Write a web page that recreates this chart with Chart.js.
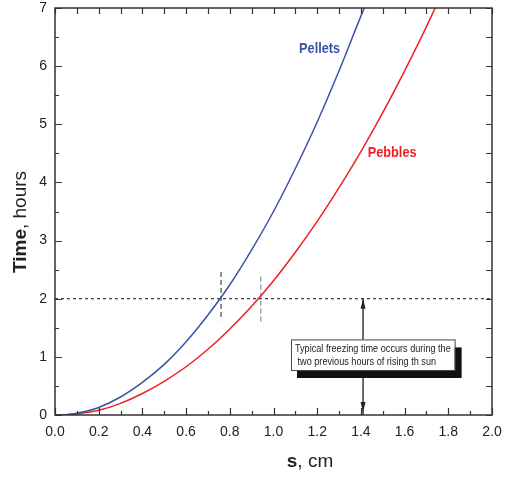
<!DOCTYPE html>
<html>
<head>
<meta charset="utf-8">
<script src="https://cdn.jsdelivr.net/npm/chart.js@4.4.1/dist/chart.umd.min.js"></script>
<style>
html,body{margin:0;padding:0;background:#fff;}
canvas{display:block;}
</style>
</head>
<body>
<canvas id="c" width="520" height="477"></canvas>
<script>
// ---- data ----
const pelletsS     = [0, 0.05, 0.1, 0.2, 0.3, 0.4, 0.5, 0.6, 0.7, 0.8, 0.9, 1.0, 1.1, 1.2, 1.3, 1.4, 1.45];
const pelletsHours = [0, 0.005, 0.03, 0.13, 0.31, 0.56, 0.87, 1.26, 1.72, 2.24, 2.84, 3.5, 4.24, 5.04, 5.92, 6.86, 7.3];
const pebblesS     = [0, 0.05, 0.1, 0.2, 0.3, 0.4, 0.5, 0.6, 0.7, 0.8, 0.9, 1.0, 1.1, 1.2, 1.3, 1.4, 1.5, 1.6, 1.7, 1.8];
const pebblesHours = [0, 0.003, 0.02, 0.08, 0.2, 0.37, 0.58, 0.83, 1.13, 1.48, 1.87, 2.31, 2.8, 3.33, 3.91, 4.53, 5.2, 5.92, 6.68, 7.5];
const xTickLabels  = ["0.0","0.2","0.4","0.6","0.8","1.0","1.2","1.4","1.6","1.8","2.0"];
const yTickLabels  = ["0","1","2","3","4","5","6","7"];
const freezeLineHours = 2;
const pelletsCross = [0.76, 2.46, 1.63];   // s, top, bottom
const pebblesCross = [0.942, 2.38, 1.58];
const arrowS = 1.41;
const arrowRange = [2, 0];
const noteLines = ["Typical freezing time occurs during the", " two previous hours of rising th sun"];
const seriesNames = ["Pellets", "Pebbles"];

const BLUE = "#3a53a4", RED = "#ed2024";
const SANS = "'Liberation Sans',Arial,sans-serif";

const pts = (xs, ys) => xs.map((x, i) => ({x, y: ys[i]}));

function narrowText(ctx, text, x, y, sx, align) {
  ctx.save();
  ctx.translate(x, y);
  ctx.scale(sx, 1);
  ctx.textAlign = align;
  ctx.fillText(text, 0, 0);
  ctx.restore();
}

const deco = {
  id: 'deco',
  afterDatasetsDraw(chart) {
    const ctx = chart.ctx, xs = chart.scales.x, ys = chart.scales.y, a = chart.chartArea;
    const X = v => xs.getPixelForValue(v), Y = v => ys.getPixelForValue(v);
    ctx.save();
    // arrowheads
    ctx.fillStyle = "#222";
    const ax = X(arrowS);
    let yt = Y(arrowRange[0]), yb = Y(arrowRange[1]);
    ctx.beginPath(); ctx.moveTo(ax, yt); ctx.lineTo(ax - 2.5, yt + 10); ctx.lineTo(ax + 2.5, yt + 10); ctx.closePath(); ctx.fill();
    ctx.beginPath(); ctx.moveTo(ax, yb - 3); ctx.lineTo(ax - 2.5, yb - 13); ctx.lineTo(ax + 2.5, yb - 13); ctx.closePath(); ctx.fill();
    // note box
    const bl = X(1.08), br = X(1.829), bt = Y(1.30), bb = Y(0.774);
    ctx.fillStyle = "#111";
    ctx.fillRect(bl + 6, bt + 8, br - bl + 1, bb - bt);
    ctx.fillStyle = "#fff";
    ctx.fillRect(bl, bt, br - bl, bb - bt);
    ctx.strokeStyle = "#444"; ctx.lineWidth = 1;
    ctx.strokeRect(bl + 0.5, bt + 0.5, br - bl, bb - bt);
    ctx.fillStyle = "#222";
    ctx.font = "11px " + SANS;
    ctx.textBaseline = "middle";
    narrowText(ctx, noteLines[0], bl + 4, bt + 10, 0.83, "left");
    narrowText(ctx, noteLines[1], bl + 4, bt + 22.5, 0.83, "left");
    // series labels
    ctx.font = "bold 15px " + SANS;
    ctx.fillStyle = BLUE; narrowText(ctx, seriesNames[0], X(1.211), Y(6.29), 0.85, "center");
    ctx.fillStyle = RED;  narrowText(ctx, seriesNames[1], X(1.543), Y(4.51), 0.85, "center");
    // frame
    ctx.strokeStyle = "#333"; ctx.lineWidth = 1.5;
    ctx.strokeRect(a.left, a.top, a.right - a.left, a.bottom - a.top);
    ctx.lineWidth = 1.2;
    ctx.beginPath();
    for (let i = 0; i <= 20; i++) {
      const v = i / 10, px = Math.round(X(v)) + 0.5, len = i % 2 === 0 ? 7 : 4;
      ctx.moveTo(px, a.bottom); ctx.lineTo(px, a.bottom - len);
      ctx.moveTo(px, a.top); ctx.lineTo(px, a.top + 6);
    }
    for (let i = 0; i <= 14; i++) {
      const v = i / 2, py = Math.round(Y(v)) + 0.5, len = i % 2 === 0 ? 7 : 4;
      ctx.moveTo(a.left, py); ctx.lineTo(a.left + len, py);
      ctx.moveTo(a.right, py); ctx.lineTo(a.right - 6, py);
    }
    ctx.stroke();
    // axis titles
    ctx.fillStyle = "#222";
    ctx.textBaseline = "middle";
    ctx.font = "bold 19px " + SANS;
    const s1 = "s"; const w1 = ctx.measureText(s1).width;
    ctx.font = "19px " + SANS;
    const s2 = ", cm"; const w2 = ctx.measureText(s2).width;
    let sx = 310 - (w1 + w2) / 2;
    ctx.textAlign = "left";
    ctx.font = "bold 19px " + SANS; ctx.fillText(s1, sx, 462);
    ctx.font = "19px " + SANS; ctx.fillText(s2, sx + w1, 462);
    ctx.save();
    ctx.translate(21, 222); ctx.rotate(-Math.PI / 2);
    ctx.font = "bold 19px " + SANS;
    const t1 = "Time"; const v1 = ctx.measureText(t1).width;
    ctx.font = "19px " + SANS;
    const t2 = ", hours"; const v2 = ctx.measureText(t2).width;
    let tx = -(v1 + v2) / 2;
    ctx.font = "bold 19px " + SANS; ctx.fillText(t1, tx, 0);
    ctx.font = "19px " + SANS; ctx.fillText(t2, tx + v1, 0);
    ctx.restore();
    ctx.restore();
  }
};

new Chart(document.getElementById('c'), {
  type: 'scatter',
  data: {
    datasets: [
      { label: seriesNames[0], data: pts(pelletsS, pelletsHours), showLine: true, borderColor: BLUE, borderWidth: 1.5, pointRadius: 0, tension: 0.4 },
      { label: seriesNames[1], data: pts(pebblesS, pebblesHours), showLine: true, borderColor: RED, borderWidth: 1.5, pointRadius: 0, tension: 0.4 },
      { data: [{x: 0, y: freezeLineHours}, {x: 2, y: freezeLineHours}], showLine: true, borderColor: "#111", borderWidth: 1, borderDash: [3, 3], pointRadius: 0 },
      { data: [{x: pelletsCross[0], y: pelletsCross[1]}, {x: pelletsCross[0], y: pelletsCross[2]}], showLine: true, borderColor: "#222", borderWidth: 1, borderDash: [5, 3], pointRadius: 0 },
      { data: [{x: pebblesCross[0], y: pebblesCross[1]}, {x: pebblesCross[0], y: pebblesCross[2]}], showLine: true, borderColor: "#777", borderWidth: 1, borderDash: [5, 3], pointRadius: 0 },
      { data: [{x: arrowS, y: arrowRange[0]}, {x: arrowS, y: arrowRange[1]}], showLine: true, borderColor: "#555", borderWidth: 1, pointRadius: 0 }
    ]
  },
  options: {
    responsive: false,
    animation: false,
    devicePixelRatio: 1,
    layout: { padding: { top: 8, right: 28, left: 0, bottom: 0 } },
    plugins: { legend: { display: false }, tooltip: { enabled: false } },
    scales: {
      x: {
        type: 'linear', min: 0, max: 2,
        grid: { display: false, drawTicks: false }, border: { display: false },
        ticks: { stepSize: 0.2, padding: 9, color: "#222", font: { family: SANS, size: 14 }, maxRotation: 0,
                 callback: (v) => { const i = Math.round(v / 0.2); return Math.abs(v - i * 0.2) < 1e-6 ? xTickLabels[i] : ''; } },
        afterFit: s => { s.height = 62; s.paddingLeft = 0; s.paddingRight = 0; }
      },
      y: {
        type: 'linear', min: 0, max: 7,
        grid: { display: false, drawTicks: false }, border: { display: false },
        ticks: { stepSize: 1, padding: 8, color: "#222", font: { family: SANS, size: 14 },
                 callback: (v) => yTickLabels[v] ?? '' },
        afterFit: s => { s.width = 55; s.paddingTop = 0; s.paddingBottom = 0; }
      }
    }
  },
  plugins: [deco]
});
</script>
</body>
</html>
